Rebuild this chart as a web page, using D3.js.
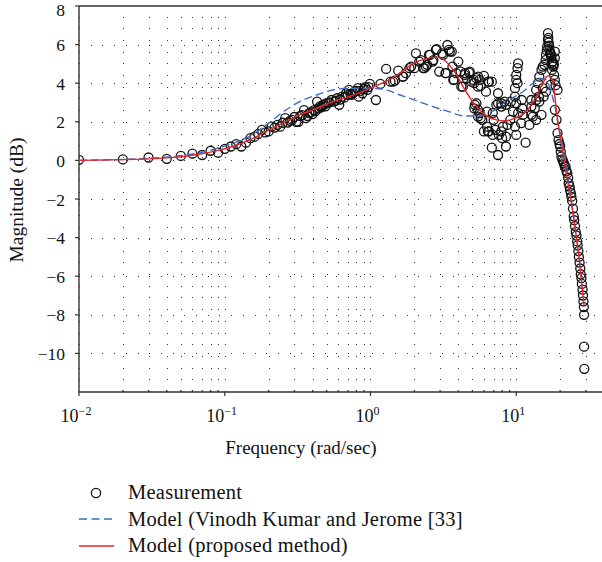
<!DOCTYPE html>
<html>
<head>
<meta charset="utf-8">
<script src="https://cdn.jsdelivr.net/npm/d3@7"></script>
<style>
  body { margin: 0; background: #fff; }
  svg { display: block; font-family: "Liberation Serif", "DejaVu Serif", serif; }
</style>
</head>
<body>
<script>
// measured points (rad/sec, dB)
const measFreq = [
  0.01, 0.02, 0.03, 0.04, 0.05, 0.06, 0.07, 0.08, 0.09, 0.10,
  0.11, 0.12, 0.13, 0.14, 0.15, 0.16, 0.17, 0.18, 0.19, 0.20,
  0.21, 0.22, 0.23, 0.24, 0.25, 0.26, 0.27, 0.28, 0.29, 0.30,
  0.31, 0.32, 0.33, 0.34, 0.35, 0.36, 0.37, 0.38, 0.39, 0.40,
  0.41, 0.42, 0.43, 0.44, 0.45, 0.46, 0.47, 0.48, 0.49, 0.50,
  0.52, 0.54, 0.56, 0.58, 0.59, 0.61, 0.62, 0.64, 0.66, 0.68,
  0.70, 0.71, 0.73, 0.74, 0.76, 0.78, 0.80, 0.82, 0.83, 0.85,
  0.88, 0.90, 0.92, 0.95, 0.97, 0.99, 1.09, 1.17, 1.28, 1.37,
  1.43, 1.47, 1.55, 1.66, 1.68, 1.75, 1.85, 1.90, 2.00, 2.05,
  2.16, 2.22, 2.30, 2.34, 2.40, 2.45, 2.52, 2.56, 2.67, 2.70,
  2.81, 2.84, 2.96, 3.10, 3.15, 3.27, 3.29, 3.37, 3.45, 3.50,
  3.61, 3.65, 3.70, 3.74, 3.87, 4.00, 4.15, 4.20, 4.30, 4.42,
  4.45, 4.57, 4.74, 4.80, 4.94, 5.10, 5.15, 5.15, 5.20, 5.33,
  5.33, 5.47, 5.47, 5.47, 5.47, 5.61, 5.61, 5.70, 5.70, 5.85,
  6.00, 6.00, 6.20, 6.30, 6.30, 6.40, 6.40, 6.50, 6.50, 6.80,
  6.80, 6.90, 6.90, 7.00, 7.20, 7.30, 7.50, 7.50, 7.50, 7.60,
  7.90, 7.90, 7.90, 8.00, 8.10, 8.30, 8.50, 8.50, 8.50, 8.70,
  9.10, 9.20, 9.50, 9.80, 9.80, 9.80, 10.0, 10.0, 10.0, 10.0,
  10.2, 10.3, 10.2, 10.3, 10.8, 10.9, 11.0, 11.1, 11.6, 12.3,
  12.7, 12.7, 12.7, 13.0, 13.4, 13.7, 13.7, 13.7, 14.1, 14.3,
  14.4, 14.4, 14.9, 14.9, 15.2, 15.2, 15.4, 15.6, 15.9, 16.0,
  16.0, 16.2, 16.3, 16.5, 16.5, 16.6, 16.7, 16.8, 16.9, 17.0,
  17.2, 17.2, 17.3, 17.4, 17.5, 17.6, 17.8, 17.9, 18.0, 18.1,
  18.2, 18.4, 18.4, 18.4, 18.4, 18.6, 18.9, 19.2, 19.2, 19.5,
  19.8, 20.0, 20.2, 20.4, 20.7, 21.0, 21.2, 21.5, 21.8, 22.1,
  22.4, 22.7, 22.9, 23.2, 23.4, 23.7, 23.9, 24.2, 24.5, 24.8,
  25.0, 25.3, 25.6, 25.9, 26.2, 26.4, 26.7, 26.9, 27.2, 27.5,
  27.7, 28.0, 28.2, 28.5, 28.7, 28.9, 29.1, 29.2, 29.2, 29.3
];
const measMag = [
  0.03, 0.05, 0.15, 0.08, 0.23, 0.35, 0.28, 0.50, 0.40, 0.60,
  0.72, 0.84, 0.72, 0.92, 1.15, 1.23, 1.37, 1.58, 1.45, 1.50,
  1.75, 1.70, 1.84, 1.75, 1.95, 2.19, 1.96, 2.05, 2.10, 2.25,
  2.00, 2.00, 2.30, 2.35, 2.60, 2.19, 2.30, 2.45, 2.50, 2.40,
  2.60, 2.55, 3.05, 2.70, 2.80, 2.75, 2.85, 2.90, 2.80, 2.96,
  3.00, 3.13, 3.05, 3.10, 3.22, 2.88, 3.15, 3.30, 3.25, 3.48,
  3.40, 3.65, 3.45, 3.40, 3.50, 3.56, 3.60, 3.74, 3.30, 3.60,
  3.48, 3.70, 3.79, 3.65, 3.80, 3.96, 3.13, 3.96, 4.74, 4.08,
  4.08, 4.13, 4.65, 4.34, 4.34, 4.52, 4.78, 4.86, 4.78, 5.55,
  5.12, 5.20, 4.78, 4.78, 4.86, 4.95, 5.47, 5.47, 5.12, 5.20,
  5.73, 5.76, 4.60, 5.55, 5.47, 4.52, 4.52, 5.98, 5.73, 5.64,
  5.64, 4.86, 4.17, 4.17, 4.52, 5.12, 4.60, 3.82, 3.82, 4.43,
  4.52, 4.26, 4.55, 4.60, 4.08, 4.17, 4.00, 2.70, 2.88, 4.26,
  2.96, 3.82, 4.34, 2.27, 2.62, 4.17, 2.45, 3.86, 2.19, 2.10,
  4.38, 1.50, 3.56, 2.53, 1.75, 4.08, 1.50, 4.08, 1.50, 4.08,
  0.66, 2.45, 1.32, 2.10, 1.58, 2.88, 3.48, 0.28, 2.96, 1.32,
  2.96, 1.50, 2.79, 1.15, 1.75, 3.05, 0.72, 1.23, 2.88, 1.84,
  2.10, 3.05, 2.53, 1.75, 3.74, 3.30, 1.32, 2.96, 4.17, 4.43,
  4.78, 5.03, 4.00, 2.45, 1.93, 3.13, 2.70, 2.36, 0.92, 1.84,
  2.36, 2.79, 3.13, 2.27, 2.70, 3.13, 2.10, 3.65, 4.00, 3.30,
  3.05, 4.34, 2.36, 4.69, 4.86, 3.74, 3.30, 4.95, 5.20, 5.47,
  3.56, 5.70, 5.90, 6.24, 6.59, 6.35, 6.10, 5.95, 5.73, 5.60,
  5.55, 3.91, 5.45, 5.38, 5.05, 4.69, 5.12, 4.95, 4.86, 5.00,
  4.43, 5.30, 5.64, 4.17, 2.62, 3.90, 2.10, 3.65, 1.41, 1.05,
  0.85, 0.72, 0.45, 0.20, 0.05, -0.05, -0.15, -0.30, -0.32, -0.55,
  -0.66, -0.90, -1.18, -1.35, -1.53, -1.70, -1.88, -2.10, -2.50, -2.90,
  -3.10, -3.40, -3.70, -3.90, -4.20, -4.40, -4.70, -5.00, -5.30, -5.60,
  -5.90, -6.10, -6.40, -6.70, -7.00, -7.30, -7.60, -8.00, -9.65, -10.8
];

// model curves
const propFreq = [0.01, 0.02, 0.03, 0.04, 0.05, 0.068, 0.09, 0.113, 0.148, 0.193, 0.25, 0.327, 0.427, 0.55, 0.71, 0.93,
  1.2, 1.55, 1.95, 2.5, 2.9, 3.3, 3.8, 4.45, 5.2, 6.1, 7.3, 8.5, 9.5, 11.7, 13.7, 15.2, 16.5, 17.8, 18.4, 19.2,
  20.6, 21.8, 23.1, 25.0, 27.0, 29.2];
const propMag = [0, 0.04, 0.08, 0.13, 0.19, 0.33, 0.52, 0.72, 1.06, 1.5, 1.93, 2.36, 2.7, 3.05, 3.3, 3.65,
  4.0, 4.45, 5.0, 5.3, 5.35, 5.12, 4.55, 3.65, 2.88, 2.36, 2.1, 2.05, 2.15, 2.53, 3.3, 4.0, 4.38, 4.1, 3.3, 2.1,
  0.72, -0.5, -1.53, -3.2, -5.1, -7.55];

const vinFreq = [0.01, 0.02, 0.03, 0.05, 0.068, 0.1, 0.148, 0.193, 0.25, 0.327, 0.43, 0.55, 0.7, 0.93, 1.2, 1.58,
  2.05, 2.67, 3.44, 4.45, 5.47, 6.9, 8.5, 11.1, 13.0, 14.4, 16.0, 17.2, 18.4, 20.0, 21.8, 23.1, 25.0, 27.0, 28.7];
const vinMag = [0, 0.05, 0.1, 0.25, 0.4, 0.75, 1.25, 1.84, 2.5, 3.05, 3.4, 3.65, 3.74, 3.74, 3.7, 3.4,
  3.1, 2.79, 2.53, 2.3, 2.3, 2.55, 3.05, 3.56, 4.0, 4.26, 4.17, 3.65, 2.79, 1.41, 0.03, -1.36, -3.1, -5.0, -7.0];

const yTicks = [-10, -8, -6, -4, -2, 0, 2, 4, 6, 8];
const xDecades = [-2, -1, 0, 1];
const legendLabels = ["Measurement", "Model (Vinodh Kumar and Jerome [33]", "Model (proposed method)"];

const W = 602, H = 562;
const mLeft = 79, mTop = 6, mBottom = 392, mRight = 604;
const red = "#e4262b", blue = "#3d6cc2";

const svg = d3.select("body").append("svg").attr("width", W).attr("height", H);
svg.append("rect").attr("width", W).attr("height", H).attr("fill", "#fff");

const x = d3.scaleLog().domain([0.01, 40]).range([mLeft, mRight]);
const y = d3.scaleLinear().domain([-12, 8]).range([mBottom, mTop]);

// dotted grid
const minor = [];
xDecades.forEach(d => {
  for (let k = 1; k <= 9; k++) {
    const v = k * Math.pow(10, d);
    if (v <= 40) minor.push(v);
  }
});
const grid = svg.append("g").attr("stroke", "#333").attr("stroke-width", 1)
  .attr("stroke-dasharray", "1,10.7").attr("shape-rendering", "crispEdges");
grid.selectAll("line.v").data(minor).join("line")
  .attr("x1", d => Math.round(x(d)) + 0.5).attr("x2", d => Math.round(x(d)) + 0.5)
  .attr("y1", mBottom).attr("y2", mTop);
grid.selectAll("line.h").data(yTicks.filter(v => v < 8)).join("line")
  .attr("x1", mLeft).attr("x2", mRight)
  .attr("y1", d => Math.round(y(d)) + 0.5).attr("y2", d => Math.round(y(d)) + 0.5);

// frame
const frame = svg.append("g").attr("stroke", "#333").attr("fill", "none");
frame.append("line").attr("x1", mLeft).attr("x2", W).attr("y1", mTop).attr("y2", mTop).attr("stroke-width", 1.6);
frame.append("line").attr("x1", mLeft).attr("x2", mLeft).attr("y1", mTop).attr("y2", mBottom + 0.5).attr("stroke-width", 1.4);
frame.append("line").attr("x1", mLeft).attr("x2", W).attr("y1", mBottom).attr("y2", mBottom).attr("stroke-width", 1.4);

// y ticks + labels
svg.append("g").selectAll("line").data(yTicks).join("line")
  .attr("x1", mLeft - 4).attr("x2", mLeft).attr("y1", d => y(d)).attr("y2", d => y(d))
  .attr("stroke", "#333").attr("stroke-width", 1.2);
svg.append("g").selectAll("text").data(yTicks).join("text")
  .attr("x", 65).attr("y", d => Math.max(y(d) + 6.5, 16))
  .attr("text-anchor", "end").attr("font-size", 17.5).attr("fill", "#111")
  .text(d => d < 0 ? "\u2212" + Math.abs(d) : d);

// x ticks + labels
svg.append("g").selectAll("line").data(minor).join("line")
  .attr("x1", d => x(d)).attr("x2", d => x(d))
  .attr("y1", mBottom).attr("y2", d => Number.isInteger(Math.log10(d)) ? mBottom + 4 : mBottom - 2)
  .attr("stroke", "#333").attr("stroke-width", 1.2);
const xl = svg.append("g").selectAll("text").data(xDecades).join("text")
  .attr("x", d => x(Math.pow(10, d)) - 3).attr("y", 422)
  .attr("text-anchor", "middle").attr("font-size", 18).attr("fill", "#111");
xl.append("tspan").text("10");
xl.append("tspan").attr("dy", -7.5).attr("font-size", 12)
  .text(d => d < 0 ? "\u2212" + Math.abs(d) : d);

// axis titles
svg.append("text").attr("x", 301).attr("y", 454).attr("text-anchor", "middle")
  .attr("font-size", 19).attr("fill", "#111").text("Frequency (rad/sec)");
svg.append("text").attr("transform", "translate(23,200) rotate(-90)").attr("text-anchor", "middle")
  .attr("font-size", 19.5).attr("fill", "#111").text("Magnitude (dB)");

// plot area clip
svg.append("clipPath").attr("id", "clip").append("rect")
  .attr("x", mLeft).attr("y", mTop).attr("width", mRight - mLeft).attr("height", mBottom - mTop);
const plot = svg.append("g").attr("clip-path", "url(#clip)");

// measurement circles
plot.append("g").selectAll("circle").data(measFreq.map((f, i) => [f, measMag[i]])).join("circle")
  .attr("cx", d => x(d[0])).attr("cy", d => y(d[1])).attr("r", 4.5)
  .attr("fill", "none").attr("stroke", "#111").attr("stroke-width", 1.3);

const line = d3.line().x(d => x(d[0])).y(d => y(d[1])).curve(d3.curveMonotoneX);
plot.append("path").datum(vinFreq.map((f, i) => [f, vinMag[i]]))
  .attr("d", line).attr("fill", "none").attr("stroke", blue).attr("stroke-width", 1.4)
  .attr("stroke-dasharray", "8,4");
plot.append("path").datum(propFreq.map((f, i) => [f, propMag[i]]))
  .attr("d", line).attr("fill", "none").attr("stroke", red).attr("stroke-width", 1.4);

// legend
const lg = svg.append("g");
lg.append("circle").attr("cx", 96).attr("cy", 493).attr("r", 4.6)
  .attr("fill", "none").attr("stroke", "#111").attr("stroke-width", 1.3);
lg.append("line").attr("x1", 79).attr("x2", 114).attr("y1", 519).attr("y2", 519)
  .attr("stroke", blue).attr("stroke-width", 1.4).attr("stroke-dasharray", "8,4.5");
lg.append("line").attr("x1", 79).attr("x2", 114).attr("y1", 546).attr("y2", 546)
  .attr("stroke", red).attr("stroke-width", 1.4);
lg.selectAll("text").data(legendLabels).join("text")
  .attr("x", 128).attr("y", (d, i) => 499 + i * 26.5)
  .attr("font-size", 20.5).attr("letter-spacing", 0.25).attr("fill", "#111").text(d => d);
</script>
</body>
</html>
